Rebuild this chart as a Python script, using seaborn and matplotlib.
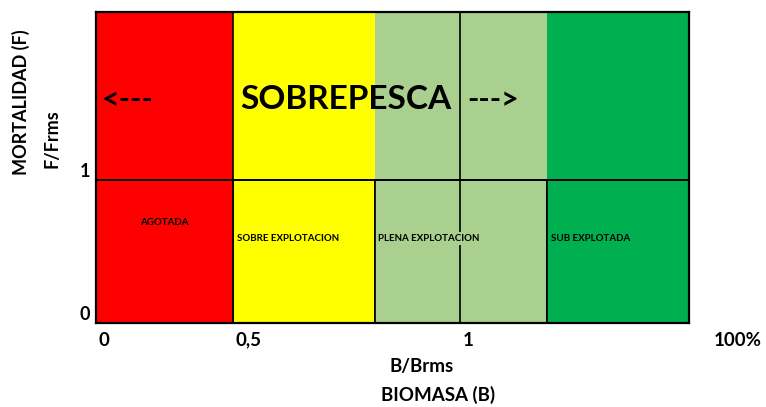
import matplotlib
matplotlib.use("Agg")
import matplotlib.pyplot as plt
import seaborn as sns

# ------------------------------------------------------------------
# data: zones along B/Brms axis (axis runs 0..1 in plot units)
# ------------------------------------------------------------------
zones = ["AGOTADA", "SOBRE EXPLOTACION", "PLENA EXPLOTACION", "SUB EXPLOTADA"]
zone_start = [0.0, 0.231, 0.470, 0.761]
zone_end = [0.231, 0.470, 0.761, 1.0]
zone_colors = ["#FF0000", "#FFFF00", "#A9D08E", "#00B050"]

f_ref = 1.0          # F/Frms = 1 (overfishing limit)
f_top = 2.175        # top of the plot in F/Frms units
b_ref = 0.614        # B/Brms = 1 position

x_tick_pos = [0.0, 0.231, 0.614, 1.037]
x_tick_labels = ["0", "0,5", "1", "100%"]
y_ticks = [0, 1]

# ------------------------------------------------------------------
sns.set_theme(style="white")
plt.rcParams["font.family"] = ["Lato", "DejaVu Sans"]
plt.rcParams["font.weight"] = "bold"
plt.rcParams["text.color"] = "black"
plt.rcParams["ytick.labelcolor"] = "black"
plt.rcParams["ytick.color"] = "black"

fig = plt.figure(figsize=(7.66, 4.07), dpi=100)
ax = fig.add_axes([0.1253, 0.2064, 0.7742, 0.7641])

widths = [e - s for s, e in zip(zone_start, zone_end)]

# lower band: stock status, boxed
ax.bar(zone_start, f_ref, width=widths, bottom=0, align="edge",
       color=zone_colors, edgecolor="black", linewidth=1.2, zorder=1)
# upper band: overfishing, no inner borders
ax.bar(zone_start, f_top - f_ref, width=widths, bottom=f_ref, align="edge",
       color=zone_colors, edgecolor="none", linewidth=0, zorder=1)

ax.axhline(f_ref, color="black", lw=1.4, zorder=2)
ax.axvline(zone_start[1], color="black", lw=1.2, zorder=2)
ax.axvline(b_ref, color="black", lw=1.2, zorder=2)

ax.set_xlim(0, 1)
ax.set_ylim(0, f_top)
for s in ax.spines.values():
    s.set_color("black")
    s.set_linewidth(1.6)
    s.set_zorder(5)

# ticks
ax.set_xticks([])
ax.set_yticks(y_ticks)
ax.set_yticklabels([str(v) for v in y_ticks], fontsize=13, fontweight="bold",
                   va="bottom", color="black")
ax.tick_params(axis="y", length=0, pad=4)
for xp, lab in zip(x_tick_pos, x_tick_labels):
    ax.text(xp + 0.004, -0.028, lab, transform=ax.get_xaxis_transform(),
            ha="left", va="top", fontsize=13.5, fontweight="bold", clip_on=False)

# upper band text
ax.text(0.010, 1.56, "<---", ha="left", va="center", fontsize=22,
        fontweight="bold")
ax.text(0.243, 1.56, "SOBREPESCA", ha="left", va="center", fontsize=24,
        fontweight="bold")
ax.text(0.626, 1.56, "--->", ha="left", va="center", fontsize=22,
        fontweight="bold")

# zone labels
ax.text((zone_start[0] + zone_end[0]) / 2, 0.706, zones[0], ha="center",
        va="center", fontsize=7, fontweight="bold")
for i in range(1, 4):
    ax.text(zone_start[i] + 0.006, 0.594, zones[i], ha="left", va="center",
            fontsize=7, fontweight="bold", zorder=3,
            bbox=dict(facecolor=zone_colors[i], edgecolor="none", pad=1.5))

# axis titles
fig.text(0.551, 0.100, "B/Brms", ha="center", va="center", fontsize=13.5,
         fontweight="bold")
fig.text(0.5725, 0.030, "BIOMASA (B)", ha="center", va="center", fontsize=13.5,
         fontweight="bold")
fig.text(0.027, 0.75, "MORTALIDAD (F)", ha="center", va="center", rotation=90,
         fontsize=13, fontweight="bold")
fig.text(0.068, 0.66, "F/Frms", ha="center", va="center", rotation=90,
         fontsize=13, fontweight="bold")

fig.savefig("out.png", dpi=100, facecolor="white")
